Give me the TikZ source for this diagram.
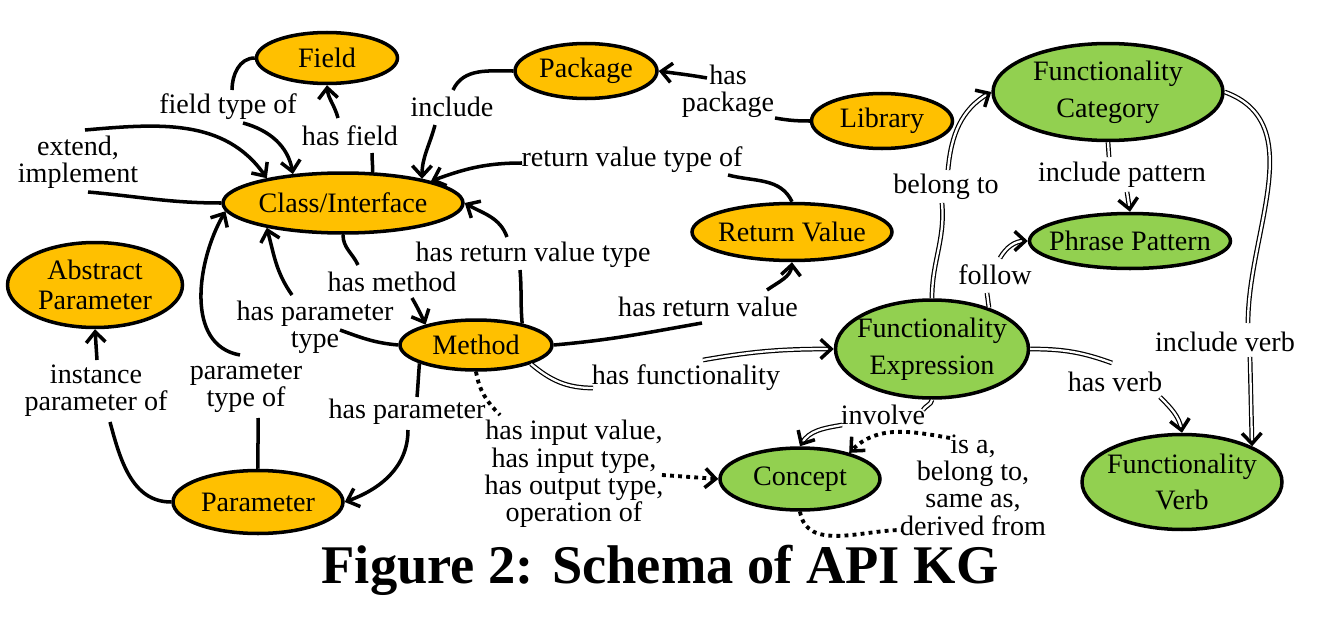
\documentclass[tikz,border=0pt]{standalone}
\usepackage{fontspec}
\setmainfont{Liberation Serif}
\usetikzlibrary{shapes.geometric,arrows.meta,calc}
\definecolor{apiorange}{RGB}{255,192,0}
\definecolor{apigreen}{RGB}{146,208,80}

\begin{document}
\begin{tikzpicture}[x=0.02cm, y=0.02cm,
  ent/.style={ellipse, draw, line width=2pt, fill=apiorange, inner xsep=-30pt, inner ysep=-14pt, align=center, font=\fontsize{16}{17}\selectfont},
  fun/.style={ent, fill=apigreen},
  lab/.style={inner sep=0pt, align=center, font=\fontsize{16}{15.5}\selectfont},
  seg/.style={line width=2pt},
  rel/.style={seg, -{Straight Barb[length=6pt,width=11pt]}},
  dseg/.style={double, double distance=1.3pt, line width=0.7pt},
  drel/.style={line width=2pt, dash pattern=on 0pt off 1000pt, -{Straight Barb[length=6pt,width=11pt]},
    preaction={draw, solid, -, double, double distance=1.3pt, line width=0.7pt, shorten >=2pt}},
  oseg/.style={line width=2.2pt, dash pattern=on 2.2pt off 2.4pt},
  orel/.style={oseg, -{Straight Barb[length=6pt,width=11pt,line width=2pt]}}]
  \useasboundingbox (0,0) rectangle (1333,-622);

  % API entities
  \node[ent, minimum width=2.82cm, minimum height=1.02cm] (field) at (327,-58) {Field};
  \node[ent, minimum width=4.8cm, minimum height=1.2cm] (class) at (343,-203) {Class/Interface};
  \node[ent, minimum width=2.84cm, minimum height=1.1cm] (package) at (586,-71) {Package};
  \node[ent, minimum width=2.82cm, minimum height=1.1cm] (library) at (882,-121) {Library};
  \node[ent, minimum width=4.0cm, minimum height=1.14cm] (retval) at (792,-232) {Return Value};
  \node[ent, minimum width=3.5cm, minimum height=1.7cm] (absparam) at (95,-285) {Abstract\\Parameter};
  \node[ent, minimum width=3.04cm, minimum height=1.0cm] (method) at (476,-345) {Method};
  \node[ent, minimum width=3.4cm, minimum height=1.26cm] (param) at (258,-502) {Parameter};
  % functionality entities
  \node[fun, minimum width=4.6cm, minimum height=1.94cm] (fcat) at (1108,-92) {Functionality\\[4pt]Category};
  \node[fun, minimum width=4.02cm, minimum height=1.1cm] (phrase) at (1130,-241) {Phrase Pattern};
  \node[fun, minimum width=3.86cm, minimum height=1.96cm] (fexpr) at (932,-349) {Functionality\\[4pt]Expression};
  \node[fun, minimum width=3.2cm, minimum height=1.24cm] (concept) at (800,-479) {Concept};
  \node[fun, minimum width=4.0cm, minimum height=1.9cm] (fverb) at (1182,-482) {Functionality\\[4pt]Verb};

  % relation labels
  \node[lab] (lft) at (228,-107) {field type of};
  \node[lab] (lhf) at (350,-136) {has field};
  \node[lab] (lext) at (78,-162) {extend,\\implement};
  \node[lab] (linc) at (452,-107) {include};
  \node[lab] (lpkg) at (728,-91) {has\\package};
  \node[lab] (lrvt) at (632,-160) {return value type of};
  \node[lab] (lhrvt) at (533,-255) {has return value type};
  \node[lab] (lhm) at (392,-282) {has method};
  \node[lab] (lhpt) at (315,-327) {has parameter\\type};
  \node[lab] (lpto) at (246,-388) {parameter\\type of};
  \node[lab] (lipo) at (96,-391) {instance\\parameter of};
  \node[lab] (lhp) at (407,-412) {has parameter};
  \node[lab] (lhrv) at (708,-307) {has return value};
  \node[lab] (lhfn) at (686,-378) {has functionality};
  \node[lab] (linp) at (574,-474) {has input value,\\has input type,\\has output type,\\operation of};
  \node[lab] (linv) at (883,-415) {involve};
  \node[lab] (lisa) at (973,-485) {is a,\\belong to,\\same as,\\derived from};
  \node[lab] (lbel) at (946,-187) {belong to};
  \node[lab] (lip) at (1122,-175) {include pattern};
  \node[lab] (lfol) at (995,-275) {follow};
  \node[lab] (liv) at (1225,-342) {include verb};
  \node[lab] (lhv) at (1115,-382) {has verb};

  % API relations
  \draw[seg] (field.west) to[out=180,in=90] ($(lft)+(4,17)$);
  \draw[rel] ($(lft)+(15,-16)$) to[out=-15,in=100] (class.150);
  \draw[seg] (class.46) to[out=90,in=-90] ($(lhf)+(22,-17)$);
  \draw[rel] ($(lhf)+(-12,18)$) to[out=105,in=-85] (field.south);
  \draw[seg] (class.west) to[out=180,in=-5] ($(lext)+(10,-30)$);
  \draw[rel] ($(lext)+(7,32)$) to[out=5,in=125] (class.162);
  \draw[seg] (package.west) to[out=180,in=65] ($(linc)+(1,17)$);
  \draw[rel] ($(linc)+(-17,-18)$) to[out=-105,in=90] (class.17);
  \draw[seg] (library.west) to[out=180,in=-10] ($(lpkg)+(47,-27)$);
  \draw[rel] ($(lpkg)+(-21,13)$) to[out=170,in=-8] (package.east);
  \draw[seg] (retval.north) to[out=115,in=-15] ($(lrvt)+(96,-15)$);
  \draw[rel] ($(lrvt)+(-110,-3)$) to[out=180,in=20] (class.14);
  \draw[seg] (method.25) to[out=95,in=-85] ($(lhrvt)+(-13,-15)$);
  \draw[rel] ($(lhrvt)+(-26,18)$) to[out=110,in=-30] (class.east);
  \draw[seg] (class.south) to[out=-90,in=115] ($(lhm)+(-34,17)$);
  \draw[rel] ($(lhm)+(20,-16)$) to[out=-60,in=115] (method.158);
  \draw[seg] (method.west) to[out=175,in=-20] ($(lhpt)+(25,-3)$);
  \draw[rel] ($(lhpt)+(-23,32)$) to[out=125,in=-75] (class.198);
  \draw[seg] (param.north) to[out=92,in=-88] ($(lpto)+(12,-30)$);
  \draw[rel] ($(lpto)+(-6,33)$) to[out=170,in=-120] (class.184);
  \draw[seg] (param.west) to[out=180,in=-75] ($(lipo)+(14,-31)$);
  \draw[rel] ($(lipo)+(1,31)$) -- (absparam.south);
  \draw[seg] (method.198) to[out=-95,in=85] ($(lhp)+(10,15)$);
  \draw[rel] ($(lhp)+(1,-18)$) to[out=-90,in=20] (param.east);
  \draw[seg] (method.east) to[out=5,in=-170] ($(lhrv)+(-6,-16)$);
  \draw[rel] ($(lhrv)+(59,17)$) to[out=35,in=-95] (retval.south);
  \draw[oseg] (method.south) to[out=-80,in=135] ($(linp)+(-74,59)$);
  \draw[orel] ($(linp)+(88,-1)$) -- (concept.west);

  % functionality relations
  \draw[dseg] (method.341) to[out=-40,in=180] ($(lhfn)+(-93,-10)$);
  \draw[drel] ($(lhfn)+(17,18)$) to[out=10,in=180] (fexpr.west);
  \draw[dseg] (fexpr.south) to[out=-100,in=60] ($(linv)+(40,5)$);
  \draw[drel] ($(linv)+(-41,-10)$) to[out=190,in=60] (concept.north);
  \draw[orel] ($(lisa)+(-23,47)$) to[out=170,in=45] (concept.28);
  \draw[oseg] (concept.south) to[out=-80,in=180] ($(lisa)+(-71,-45)$);
  \draw[dseg] (fexpr.north) to[out=90,in=-85] ($(lbel)+(-4,-16)$);
  \draw[drel] ($(lbel)+(2,17)$) to[out=85,in=-150] (fcat.west);
  \draw[dseg] (fcat.south) -- ($(lip)+(-13,18)$);
  \draw[drel] ($(lip)+(5,-17)$) -- (phrase.north);
  \draw[dseg] (fexpr.36) -- ($(lfol)+(-8,-18)$);
  \draw[drel] ($(lfol)+(5,17)$) to[out=60,in=180] (phrase.west);
  \draw[dseg] (fcat.east) to[out=-20,in=90] ($(liv)+(23,19)$);
  \draw[drel] ($(liv)+(25,-15)$) -- (fverb.27);
  \draw[dseg] (fexpr.east) to[out=0,in=160] ($(lhv)+(-3,19)$);
  \draw[drel] ($(lhv)+(45,-15)$) to[out=-45,in=100] (fverb.north);

  \node[font=\fontsize{31}{31}\selectfont\bfseries] (title) at (660,-570) {Figure 2: Schema of API KG};
\end{tikzpicture}
\end{document}
